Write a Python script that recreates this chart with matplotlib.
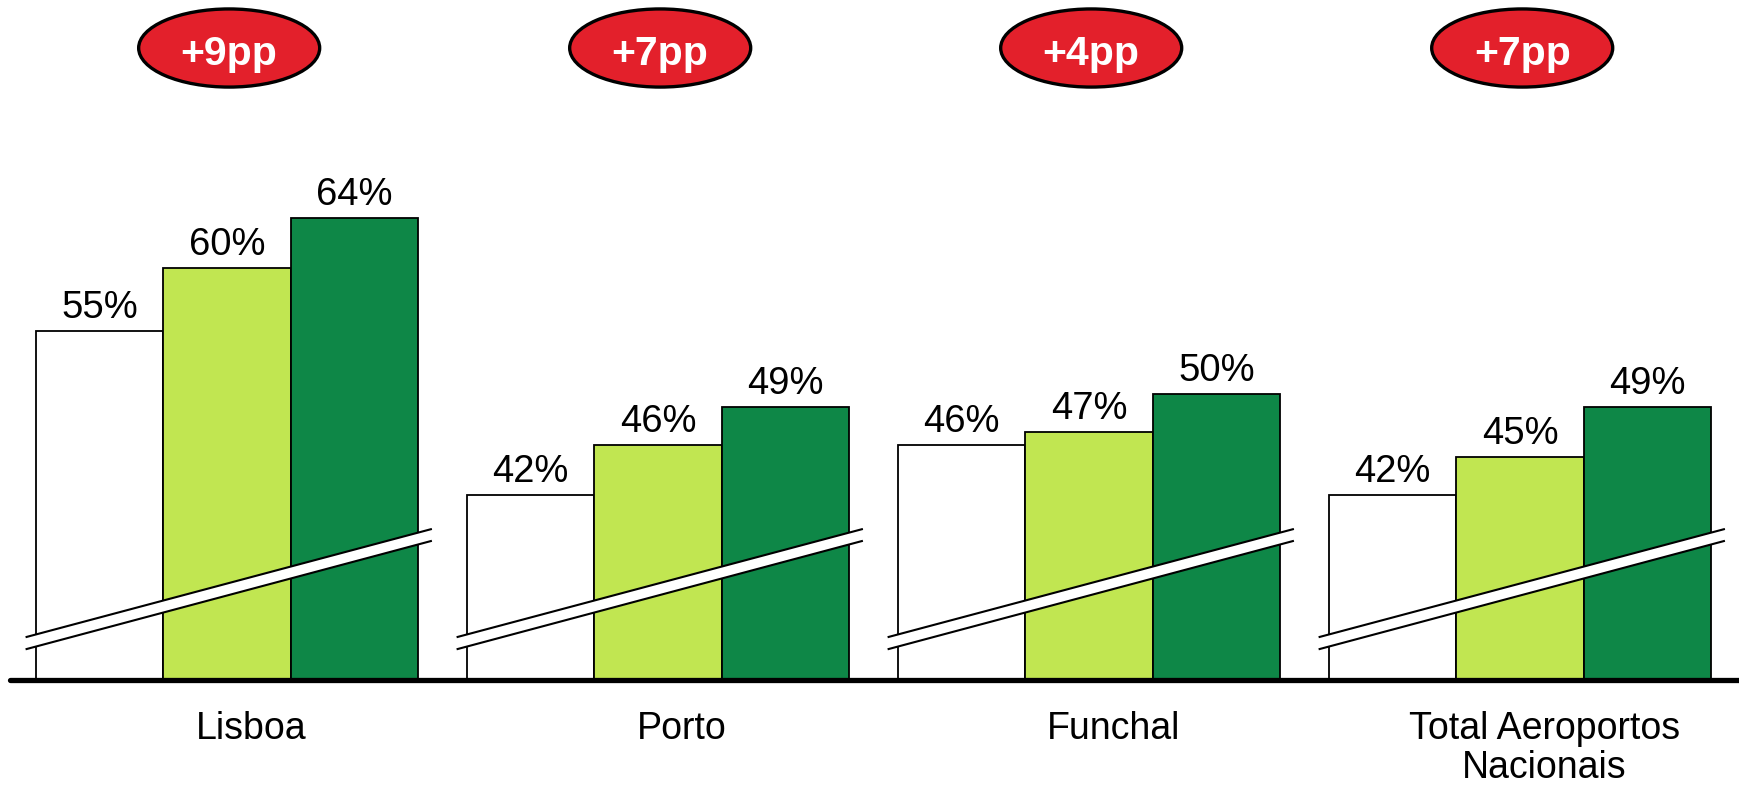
import matplotlib
matplotlib.use("Agg")
import matplotlib.pyplot as plt
from matplotlib.patches import Ellipse, Polygon
import numpy as np

plt.rcParams['font.family'] = ['Liberation Sans', 'DejaVu Sans']

categories = ["Lisboa", "Porto", "Funchal", "Total Aeroportos\nNacionais"]
series_a = [55, 42, 46, 42]   # first period
series_b = [60, 46, 47, 45]   # second period
series_c = [64, 49, 50, 49]   # third period
badges = ["+9pp", "+7pp", "+4pp", "+7pp"]

colors = ["#FFFFFF", "#C1E651", "#0E8747"]
badge_red = "#E3202B"

y_floor = 27.33          # value at the (broken) baseline
bar_w = 0.296

fig = plt.figure(figsize=(17.39, 7.85), dpi=100)
ax = fig.add_axes([0, 0, 1, 1])
ax.set_xlim(-0.5267, 3.508)
ax.set_ylim(19.0, 81.3)
ax.axis("off")

x = np.arange(len(categories))
for k, (vals, col) in enumerate(zip([series_a, series_b, series_c], colors)):
    xs = x + (k - 1) * bar_w
    heights = np.array(vals) - y_floor
    ax.bar(xs, heights, bottom=y_floor, width=bar_w, color=col,
           edgecolor="black", linewidth=1.3, zorder=2)
    for xi, v in zip(xs, vals):
        ax.text(xi, v + 1.03, f"{v}%", ha="center", va="baseline",
                fontsize=27.5, color="black", zorder=5)

# axis-break marks across each group
for xc in x:
    x0, x1 = xc - 0.465, xc + 0.473
    up0, up1 = 30.75, 39.3
    lo0, lo1 = 29.79, 38.36
    band = Polygon([[x0, lo0], [x1, lo1], [x1, up1], [x0, up0]],
                   closed=True, facecolor="white", edgecolor="none", zorder=3)
    ax.add_patch(band)
    ax.plot([x0, x1], [up0, up1], color="black", lw=1.5, zorder=4)
    ax.plot([x0, x1], [lo0, lo1], color="black", lw=1.5, zorder=4)

# baseline
ax.plot([-0.503, 3.6], [y_floor, y_floor], color="black", lw=3.8,
        solid_capstyle="round", zorder=6)

# category labels (set slightly right of the group centre)
for xc, name in zip(x, categories):
    ax.text(xc + 0.056, 24.87, name, ha="center", va="top", fontsize=27,
            linespacing=1.12, color="black")

# change badges
for xc, txt in zip(x, badges):
    e = Ellipse((xc + 0.005, 77.49), width=0.42, height=6.2,
                facecolor=badge_red, edgecolor="black", linewidth=2.4, zorder=7)
    ax.add_patch(e)
    ax.text(xc + 0.005, 76.14, txt, ha="center", va="baseline", fontsize=29.5,
            fontweight="bold", color="white", zorder=8)

fig.savefig("out.png", dpi=100)
